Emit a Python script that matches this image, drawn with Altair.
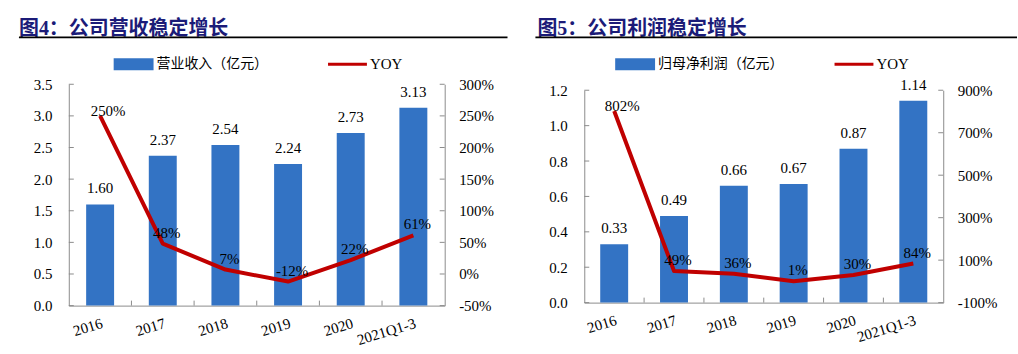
import altair as alt
import pandas as pd

# ---------------- data ----------------
years = ["2016", "2017", "2018", "2019", "2020", "2021Q1-3"]
revenue = [1.60, 2.37, 2.54, 2.24, 2.73, 3.13]
revenue_yoy = [250, 48, 7, -12, 22, 61]
profit = [0.33, 0.49, 0.66, 0.67, 0.87, 1.14]
profit_yoy = [802, 49, 36, 1, 30, 84]

rev_left_ticks = [0.0, 0.5, 1.0, 1.5, 2.0, 2.5, 3.0, 3.5]
rev_right_ticks = [-50, 0, 50, 100, 150, 200, 250, 300]
pro_left_ticks = [0.0, 0.2, 0.4, 0.6, 0.8, 1.0, 1.2]
pro_right_ticks = [-100, 100, 300, 500, 700, 900]

titles = ["图4：公司营收稳定增长", "图5：公司利润稳定增长"]
bar_names = ["营业收入（亿元）", "归母净利润（亿元）"]
line_name = "YOY"

# ---------------- style ----------------
BLUE = "#3373C4"
RED = "#C00000"
NAVY = "#1B1B78"
AX = "#8C8C8C"
SERIF = "Liberation Serif"
CJK = "Liberation Serif, Noto Sans CJK SC"


def one():
    return alt.Data(values=[{"k": 1}])


def panel(title, bar_name, values, yoy, lticks, rticks, W, H, top, band, lfmt, lpad, rpad, L):
    df = pd.DataFrame({"year": years, "value": values, "yoy": yoy, "i": list(range(len(years)))})
    xscale = alt.Scale(domain=years, paddingInner=0, paddingOuter=0)
    xaxis = alt.Axis(labelAngle=343, labelAlign="right", labelBaseline="top",
                     labelPadding=10, ticks=False, title=None)

    def X(**kw):
        return alt.X("year:N", scale=xscale, axis=xaxis, title=None, **kw)

    yl = alt.Scale(domain=[lticks[0], lticks[-1]], nice=False, zero=False, range=[H, -top])
    yr = alt.Scale(domain=[rticks[0], rticks[-1]], nice=False, zero=False, range=[H, -top])
    laxis = alt.Axis(values=lticks, format=lfmt, title=None, orient="left",
                     labelPadding=lpad, ticks=False)
    raxis = alt.Axis(values=rticks, labelExpr="datum.value + '%'", title=None,
                     orient="right", labelPadding=rpad, ticks=False)

    def YL(f):
        return alt.Y(f, scale=yl, axis=laxis, title=None)

    def YR(f):
        return alt.Y(f, scale=yr, axis=raxis, title=None)

    base = alt.Chart(df)
    bars = base.mark_bar(color=BLUE, width=alt.RelativeBandSize(band)).encode(
        x=X(), y=YL("value:Q"))
    bar_labels = base.mark_text(dy=-16, font=SERIF, fontSize=15, color="black").encode(
        x=X(), y=YL("value:Q"), text=alt.Text("value:Q", format=".2f"))
    lt = alt.Chart(pd.DataFrame({"v": lticks})).mark_rule(color=AX).encode(
        y=YL("v:Q"), x=alt.value(0), x2=alt.value(5))
    xt = alt.Chart(pd.DataFrame({"year": years[1:]})).mark_rule(color=AX).encode(
        x=X(bandPosition=0), y=alt.value(H - 5), y2=alt.value(H))

    title_t = alt.Chart(one()).mark_text(
        align="left", baseline="middle", font=CJK, fontSize=20, fontWeight="bold",
        color=NAVY, text=title).encode(x=alt.value(L["tx"]), y=alt.value(L["ty"]))
    underline = alt.Chart(one()).mark_rule(color="black", strokeWidth=1.6).encode(
        x=alt.value(L["ux1"]), x2=alt.value(L["ux2"]), y=alt.value(L["uy"]))
    leg_rect = alt.Chart(one()).mark_rect(color=BLUE).encode(
        x=alt.value(L["rx1"]), x2=alt.value(L["rx1"] + 40),
        y=alt.value(L["ly"] - 6), y2=alt.value(L["ly"] + 6))
    leg_text = alt.Chart(one()).mark_text(
        align="left", baseline="middle", font=CJK, fontSize=14, color="black",
        text=bar_name).encode(x=alt.value(L["rx1"] + 43), y=alt.value(L["ly"]))
    leg_line = alt.Chart(one()).mark_rule(color=RED, strokeWidth=3).encode(
        x=alt.value(L["lx1"]), x2=alt.value(L["lx1"] + 39), y=alt.value(L["ly"]))
    leg_yoy = alt.Chart(one()).mark_text(
        align="left", baseline="middle", font=SERIF, fontSize=15, color="black",
        text=line_name).encode(x=alt.value(L["lx1"] + 42), y=alt.value(L["ly"]))

    line = base.mark_line(color=RED, strokeWidth=4, strokeJoin="round").encode(
        x=X(), y=YR("yoy:Q"))
    lab = base.transform_calculate(lab="datum.yoy + '%'")
    lab0 = lab.transform_filter("datum.i == 0").mark_text(
        dx=8, dy=-5, font=SERIF, fontSize=15, color="black").encode(
        x=X(), y=YR("yoy:Q"), text="lab:N")
    lab1 = lab.transform_filter("datum.i > 0").mark_text(
        dx=4, dy=-11, font=SERIF, fontSize=15, color="black").encode(
        x=X(), y=YR("yoy:Q"), text="lab:N")
    rt = alt.Chart(pd.DataFrame({"v": rticks})).mark_rule(color=AX).encode(
        y=YR("v:Q"), x=alt.value(W - 5), x2=alt.value(W))

    left = alt.layer(bars, bar_labels, lt, xt, title_t, underline,
                     leg_rect, leg_text, leg_line, leg_yoy)
    right = alt.layer(line, lab0, lab1, rt)
    return alt.layer(left, right).resolve_scale(y="independent").properties(
        width=W, height=H)


p1 = panel(titles[0], bar_names[0], revenue, revenue_yoy, rev_left_ticks, rev_right_ticks,
           377, 216, 6, 0.446, ".1f", 17, 14,
           {"tx": -50, "ty": -61, "ux1": -50, "ux2": 440, "uy": -53,
            "rx1": 45, "lx1": 260, "ly": -26})
p2 = panel(titles[1], bar_names[1], profit, profit_yoy, pro_left_ticks, pro_right_ticks,
           360, 213, 0, 0.467, ".1f", 17, 14,
           {"tx": -47, "ty": -61, "ux1": -49, "ux2": 434, "uy": -53,
            "rx1": 31, "lx1": 251, "ly": -26})

chart = alt.hconcat(p1, p2, spacing=26).properties(
    padding={"left": 18, "top": 19, "right": 0, "bottom": 0}
).configure_view(strokeWidth=0).configure_axis(
    labelFont=SERIF, labelFontSize=15, labelColor="black",
    domainColor=AX, domainWidth=1, grid=False)

chart.save("out.html", embed_options={"renderer": "svg", "actions": False})
